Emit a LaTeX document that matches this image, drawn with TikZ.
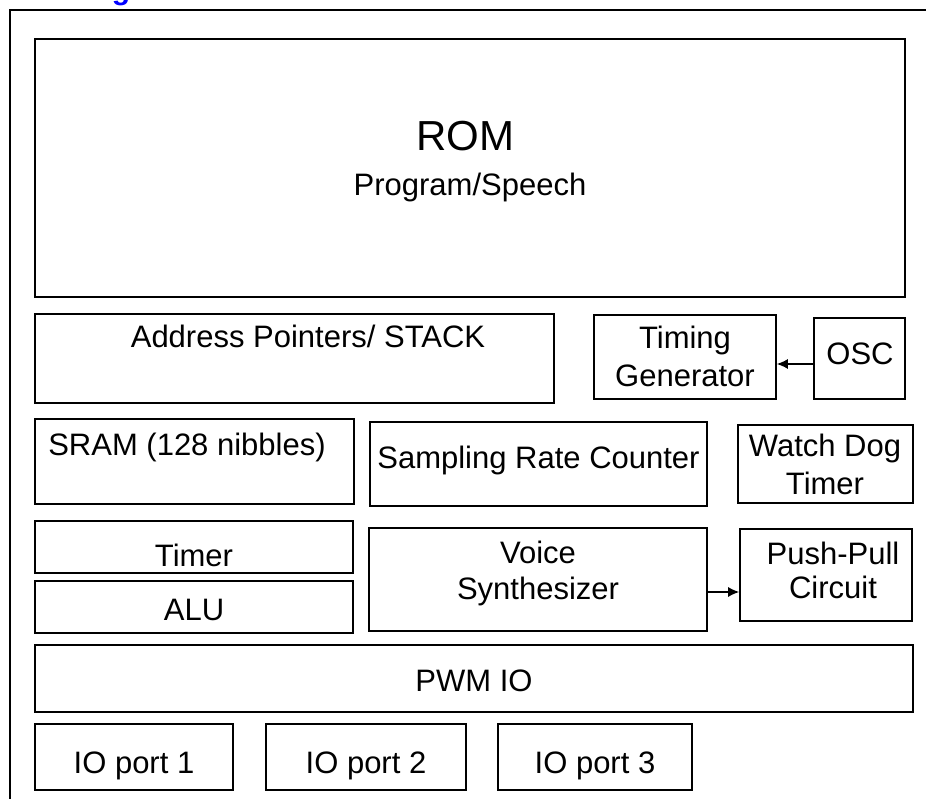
\documentclass[tikz,border=0pt]{standalone}
\usepackage{fontspec}
\setmainfont{Liberation Sans}
\usepackage{tikz}
\usetikzlibrary{arrows,arrows.meta}
\tikzstyle{blk}=[draw,line width=1.6pt,inner sep=0pt]
\tikzstyle{txt}=[anchor=base,inner sep=0pt,align=center,font=\fontsize{31}{38}\selectfont]
\tikzstyle{arr}=[line width=1.4pt,-{Latex[length=11pt,width=10pt]}]

\begin{document}
\begin{tikzpicture}[x=1pt,y=1pt]
\useasboundingbox (0,0) rectangle (926,-799);
\begin{scope}
\clip (0,0) rectangle (926,-799);
\node[anchor=base,inner sep=0pt,text=blue,font=\fontsize{30}{30}\selectfont\bfseries] (head) at (121,0.5) {g};
\end{scope}
% outer frame
\draw[line width=1.6pt] (10,-799) -- (10,-10) -- (926,-10);
% blocks
\node[blk, minimum width=870pt, minimum height=258pt] (rom) at (470,-168) {};
\node[blk, minimum width=519pt, minimum height=89pt] (addr) at (294.5,-358.5) {};
\node[blk, minimum width=182pt, minimum height=84pt] (timing) at (685,-357) {};
\node[blk, minimum width=91pt, minimum height=81pt] (osc) at (859.5,-358.5) {};
\node[blk, minimum width=319pt, minimum height=85pt] (sram) at (194.5,-461.5) {};
\node[blk, minimum width=337pt, minimum height=84pt] (src) at (538.5,-464) {};
\node[blk, minimum width=175pt, minimum height=78pt] (wdt) at (825.5,-464) {};
\node[blk, minimum width=318pt, minimum height=52pt] (timer) at (194,-547) {};
\node[blk, minimum width=318pt, minimum height=52pt] (alu) at (194,-607) {};
\node[blk, minimum width=338pt, minimum height=103pt] (voice) at (538,-579.5) {};
\node[blk, minimum width=172pt, minimum height=92pt] (push) at (826,-575) {};
\node[blk, minimum width=878pt, minimum height=67pt] (pwm) at (474,-678.5) {};
\node[blk, minimum width=198pt, minimum height=66pt] (io1) at (134,-757) {};
\node[blk, minimum width=200pt, minimum height=66pt] (io2) at (366,-757) {};
\node[blk, minimum width=194pt, minimum height=66pt] (io3) at (595,-757) {};
% labels (base = last line)
\node[txt, font=\fontsize{42}{50}\selectfont] (romt) at (465,-151) {ROM};
\node[txt] (romsub) at (470,-196) {Program/Speech};
\node[txt] (addrt) at (308,-348) {Address Pointers/ STACK};
\node[txt] (timingt) at (685,-386) {Timing\\Generator};
\node[txt] (osct) at (860,-364) {OSC};
\node[txt] (sramt) at (187,-455) {SRAM (128 nibbles)};
\node[txt] (srct) at (538.5,-468) {Sampling Rate Counter};
\node[txt] (wdtt) at (825,-494) {Watch Dog\\Timer};
\node[txt] (timert) at (194,-566) {Timer};
\node[txt] (alut) at (194,-620) {ALU};
\node[txt, font=\fontsize{31}{36}\selectfont] (voicet) at (538,-599) {Voice\\Synthesizer};
\node[txt, font=\fontsize{31}{34}\selectfont] (pusht) at (833,-598) {Push-Pull\\Circuit};
\node[txt] (pwmt) at (474,-691) {PWM IO};
\node[txt] (io1t) at (134,-773) {IO port 1};
\node[txt] (io2t) at (366,-773) {IO port 2};
\node[txt] (io3t) at (595,-773) {IO port 3};
% arrows
\draw[arr] ([yshift=-5.5pt]osc.west) -- ([yshift=-5.5pt]osc.west -| timing.east);
\draw[arr] ([yshift=-12.5pt]voice.east) -- ([yshift=-12.5pt]voice.east -| push.west);
\end{tikzpicture}
\end{document}
